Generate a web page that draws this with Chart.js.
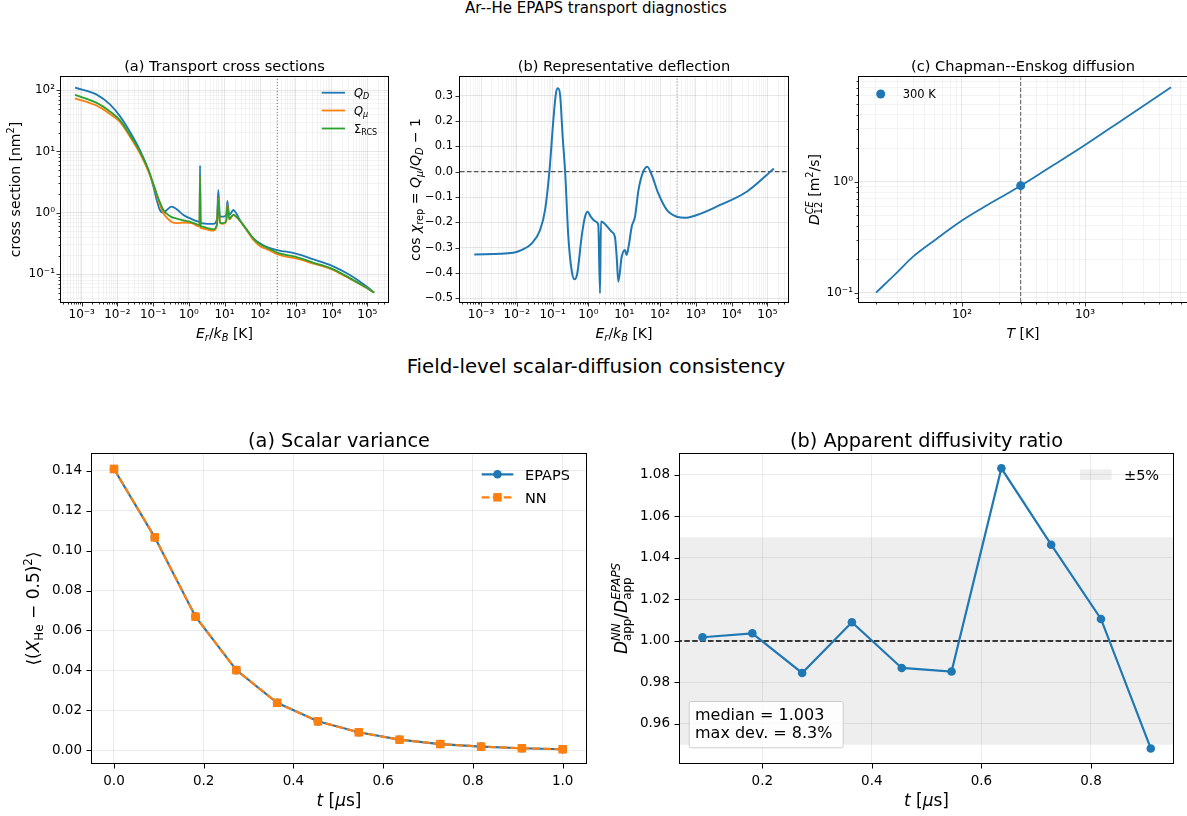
<!DOCTYPE html>
<html><head><meta charset="utf-8">
<script src="https://cdn.jsdelivr.net/npm/chart.js@4.4.1/dist/chart.umd.min.js"></script>
<style>
html,body{margin:0;padding:0;background:#fff;overflow:hidden;width:1187px;height:816px;position:relative;}
canvas{position:absolute;}
.sup{position:absolute;font-family:"DejaVu Sans",sans-serif;color:#000;white-space:nowrap;transform:translateX(-50%);}
</style></head><body>
<div class="sup" style="left:596px;top:0px;font-size:15px;line-height:17px">Ar--He EPAPS transport diagnostics</div>
<div class="sup" style="left:596px;top:355px;font-size:19.8px;line-height:23px">Field-level scalar-diffusion consistency</div>
<canvas id="cA"></canvas><canvas id="cB"></canvas><canvas id="cC"></canvas>
<canvas id="cD"></canvas><canvas id="cE"></canvas>
<script>
// ---------------- DATA ----------------
// (a) transport cross sections [nm^2] vs E_r/k_B [K]
const energyK = [0.00065, 0.00263, 0.00617, 0.01175, 0.0224, 0.0427, 0.0741, 0.102, 0.126, 0.155, 0.195, 0.24, 0.331, 0.457, 0.708, 1.20, 1.86, 2.00, 2.06, 2.14, 2.29, 3.55, 4.90, 6.17, 6.70, 7.48, 9.33, 11.2, 12.0, 13.6, 17.8, 20.9, 26.9, 41.7, 64.6, 97.7, 170, 324, 1000, 3160, 10000, 31600, 100000, 155000];
const qD = [109, 84.1, 58.2, 37.6, 20.9, 10.5, 4.98, 2.66, 1.62, 1.11, 1.00, 1.11, 1.26, 1.14, 0.92, 0.79, 0.716, 0.708, 5.85, 0.684, 0.675, 0.661, 0.661, 0.794, 2.35, 0.865, 0.865, 0.933, 1.56, 0.92, 1.11, 1.00, 0.764, 0.525, 0.384, 0.318, 0.270, 0.245, 0.216, 0.174, 0.138, 0.0977, 0.0617, 0.0501];
const qMu = [73.1, 55.6, 40.7, 30.2, 17.4, 9.31, 4.68, 2.85, 1.95, 1.35, 0.982, 0.832, 0.708, 0.676, 0.695, 0.676, 0.600, 0.594, 3.87, 0.569, 0.558, 0.525, 0.513, 0.631, 1.72, 0.675, 0.661, 0.724, 1.34, 0.783, 0.920, 0.865, 0.745, 0.525, 0.361, 0.288, 0.248, 0.207, 0.180, 0.148, 0.120, 0.0851, 0.0589, 0.0501];
const sigmaRCS = [83.2, 61.7, 44.7, 32.4, 18.5, 9.91, 4.98, 2.95, 2.04, 1.48, 1.11, 0.966, 0.851, 0.804, 0.750, 0.700, 0.638, 0.632, 3.87, 0.603, 0.594, 0.558, 0.537, 0.661, 1.66, 0.692, 0.676, 0.741, 1.29, 0.794, 0.933, 0.875, 0.745, 0.537, 0.380, 0.309, 0.263, 0.221, 0.191, 0.153, 0.123, 0.0871, 0.0589, 0.0501];
// (b) representative deflection
const deflEnergyK = [0.00065, 0.00794, 0.0138, 0.0263, 0.0447, 0.0617, 0.0813, 0.105, 0.124, 0.141, 0.162, 0.191, 0.224, 0.275, 0.339, 0.407, 0.490, 0.646, 0.804, 0.955, 1.17, 1.62, 1.89, 2.11, 2.24, 2.88, 4.47, 5.50, 6.17, 6.84, 8.51, 10.5, 11.7, 13.5, 16.2, 20.0, 25.1, 33.9, 44.2, 58.9, 89.1, 155, 295, 501, 1070, 3800, 26300, 95500, 151000];
const cosChiRep = [-0.327, -0.320, -0.309, -0.283, -0.230, -0.151, 0.000, 0.204, 0.310, 0.329, 0.303, 0.138, 0.000, -0.257, -0.388, -0.425, -0.401, -0.257, -0.178, -0.158, -0.178, -0.197, -0.210, -0.480, -0.197, -0.206, -0.237, -0.257, -0.336, -0.434, -0.336, -0.309, -0.329, -0.289, -0.217, -0.178, -0.072, 0.000, 0.020, -0.013, -0.085, -0.151, -0.178, -0.182, -0.171, -0.138, -0.079, -0.013, 0.013];
const refTemperatureK = 300;
// (c) Chapman-Enskog diffusion
const tempK = [20, 30, 40, 60, 100, 150, 200, 300, 500, 1000, 2000, 5000];
const dCE = [0.100, 0.154, 0.211, 0.297, 0.446, 0.588, 0.708, 0.920, 1.315, 2.14, 3.58, 7.08];
const dCE300 = 0.92;
// bottom (a) scalar variance
const timeUs = [0, 0.0909, 0.1818, 0.2727, 0.3636, 0.4545, 0.5455, 0.6364, 0.7273, 0.8182, 0.9091, 1.0];
const varEPAPS = [0.1410, 0.1067, 0.0669, 0.0401, 0.0237, 0.0144, 0.0089, 0.0052, 0.0030, 0.0017, 0.0009, 0.0004];
const varNN = [0.1410, 0.1067, 0.0669, 0.0401, 0.0237, 0.0144, 0.0089, 0.0052, 0.0030, 0.0017, 0.0009, 0.0004];
// bottom (b) apparent diffusivity ratio
const ratioTimeUs = [0.0909, 0.1818, 0.2727, 0.3636, 0.4545, 0.5455, 0.6364, 0.7273, 0.8182, 0.9091];
const diffRatio = [1.0018, 1.0037, 0.9846, 1.0090, 0.9870, 0.9853, 1.0832, 1.0464, 1.0106, 0.9482];
const bandLimits = [0.95, 1.05];
const statsText = ['median = 1.003', 'max dev. = 8.3%'];
// tick values
const deflTicks = [-0.5, -0.4, -0.3, -0.2, -0.1, 0.0, 0.1, 0.2, 0.3];
const varTicks = [0, 0.02, 0.04, 0.06, 0.08, 0.10, 0.12, 0.14];
const timeTicks = [0, 0.2, 0.4, 0.6, 0.8, 1.0];
const ratioTicks = [0.96, 0.98, 1.00, 1.02, 1.04, 1.06, 1.08];
const ratioTimeTicks = [0.2, 0.4, 0.6, 0.8];

// ---------------- HELPERS ----------------
const BLUE = '#1f77b4', ORANGE = '#ff7f0e', GREEN = '#2ca02c';
const FAM = '"DejaVu Sans", sans-serif';
const SUPS = {'-':'\u207B','0':'\u2070','1':'\u00B9','2':'\u00B2','3':'\u00B3','4':'\u2074','5':'\u2075','6':'\u2076','7':'\u2077','8':'\u2078','9':'\u2079'};
const isDecade = v => { const l = Math.log10(v); return Math.abs(l - Math.round(l)) < 1e-6; };
const pow10Label = v => '10' + String(Math.round(Math.log10(v))).split('').map(c => SUPS[c]).join('');
function logTickValues(min, max) {
  const out = [];
  for (let e = Math.floor(Math.log10(min)); e <= Math.ceil(Math.log10(max)); e++)
    for (let m = 1; m < 10; m++) { const v = +(m * Math.pow(10, e)).toPrecision(6); if (v >= min && v <= max) out.push(v); }
  return out;
}
const pts = (xs, ys) => xs.map((x, i) => ({x, y: ys[i]}));

function logAxis(min, max, size, pad, gMaj, gMin) {
  const vals = logTickValues(min, max);
  return { type: 'logarithmic', min, max, bounds: 'data',
    afterBuildTicks: s => { s.ticks = vals.map(v => ({value: v})); },
    ticks: {autoSkip: false, maxRotation: 0, minRotation: 0, padding: pad, color: '#000',
      font: {family: FAM, size}, callback: v => isDecade(v) ? pow10Label(v) : ''},
    grid: {drawTicks: false, lineWidth: 0.8, color: c => (c.tick && isDecade(c.tick.value)) ? gMaj : gMin},
    border: {display: false} };
}
function linAxis(min, max, vals, fmt, size, pad, gcol) {
  return { type: 'linear', min, max, bounds: 'data',
    afterBuildTicks: s => { s.ticks = vals.map(v => ({value: v})); },
    ticks: {autoSkip: false, maxRotation: 0, minRotation: 0, padding: pad, color: '#000',
      font: {family: FAM, size}, callback: fmt},
    grid: {drawTicks: false, lineWidth: 0.8, color: gcol},
    border: {display: false} };
}

// rich text parts
const R = t => ({t}); const I = t => ({t, it: 1});
const Sb = (t, it) => ({t, it, s: 'sub'}); const Sp = (t, it) => ({t, it, s: 'sup'});
const St = (sub, subIt, sup, supIt) => ({stack: [{t: sub, it: subIt}, {t: sup, it: supIt}]});
const fontStr = (size, it) => (it ? 'italic ' : '') + size.toFixed(2) + 'px ' + FAM;
function richDraw(ctx, parts, size, cx, cy, rot, align) {
  ctx.save(); ctx.translate(cx, cy); if (rot) ctx.rotate(rot);
  let w = 0;
  for (const p of parts) {
    if (p.stack) {
      ctx.font = fontStr(size * 0.7, p.stack[0].it); const a = ctx.measureText(p.stack[0].t).width;
      ctx.font = fontStr(size * 0.7, p.stack[1].it); const b = ctx.measureText(p.stack[1].t).width;
      p._w = Math.max(a, b);
    } else { ctx.font = fontStr(p.s ? size * 0.7 : size, p.it); p._w = ctx.measureText(p.t).width; }
    w += p._w;
  }
  let x = align === 'left' ? 0 : -w / 2;
  const base = size * 0.36;
  ctx.textBaseline = 'alphabetic'; ctx.textAlign = 'left'; ctx.fillStyle = '#000';
  for (const p of parts) {
    if (p.stack) {
      ctx.font = fontStr(size * 0.7, p.stack[0].it); ctx.fillText(p.stack[0].t, x, base + size * 0.24);
      ctx.font = fontStr(size * 0.7, p.stack[1].it); ctx.fillText(p.stack[1].t, x, base - size * 0.42);
    } else {
      ctx.font = fontStr(p.s ? size * 0.7 : size, p.it);
      const dy = p.s === 'sub' ? size * 0.22 : p.s === 'sup' ? -size * 0.42 : 0;
      ctx.fillText(p.t, x, base + dy);
    }
    x += p._w;
  }
  ctx.restore();
}
function marker(ctx, style, x, y, r, color) {
  ctx.fillStyle = color; ctx.beginPath();
  if (style === 'rect') { const h = r * Math.SQRT1_2; ctx.rect(x - h, y - h, 2 * h, 2 * h); }
  else ctx.arc(x, y, r, 0, Math.PI * 2);
  ctx.fill();
}

const decorPlugin = {
  id: 'decor',
  afterDraw(chart, args, o) {
    const ctx = chart.ctx, a = chart.chartArea;
    const X = v => v - o.ox, Y = v => v - o.oy;
    ctx.save();
    // tick marks
    ctx.strokeStyle = '#000'; ctx.lineWidth = o.tickW;
    const xs = chart.scales.x, ys = chart.scales.y;
    ctx.beginPath();
    for (const t of xs.ticks) {
      const p = Math.round(xs.getPixelForValue(t.value)) + 0.5;
      if (p < a.left - 1 || p > a.right + 1) continue;
      const L = t.label !== '' ? o.tickLen : o.minorLen;
      ctx.moveTo(p, a.bottom); ctx.lineTo(p, a.bottom + L);
    }
    for (const t of ys.ticks) {
      const p = Math.round(ys.getPixelForValue(t.value)) + 0.5;
      if (p < a.top - 1 || p > a.bottom + 1) continue;
      const L = t.label !== '' ? o.tickLen : o.minorLen;
      ctx.moveTo(a.left, p); ctx.lineTo(a.left - L, p);
    }
    ctx.stroke();
    // frame
    ctx.strokeStyle = '#000'; ctx.lineWidth = o.frameW;
    ctx.strokeRect(a.left - 0.5, a.top - 0.5, a.right - a.left + 1, a.bottom - a.top + 1);
    // titles and labels
    richDraw(ctx, [R(o.title.t)], o.title.size, X(o.title.x), Y(o.title.y));
    richDraw(ctx, o.xlabel.parts, o.xlabel.size, X(o.xlabel.x), Y(o.xlabel.y));
    richDraw(ctx, o.ylabel.parts, o.ylabel.size, X(o.ylabel.x), Y(o.ylabel.y), -Math.PI / 2);
    // legend entries
    for (const e of (o.legend || [])) {
      if (e.type === 'line') {
        ctx.strokeStyle = e.color; ctx.lineWidth = e.lw; ctx.setLineDash(e.dash || []);
        ctx.beginPath(); ctx.moveTo(X(e.x1), Y(e.y)); ctx.lineTo(X(e.x2), Y(e.y)); ctx.stroke();
        ctx.setLineDash([]);
        if (e.marker) marker(ctx, e.marker, X((e.x1 + e.x2) / 2), Y(e.y), e.r, e.color);
      } else if (e.type === 'marker') {
        marker(ctx, e.marker, X(e.mx), Y(e.y), e.r, e.color);
      } else if (e.type === 'patch') {
        ctx.fillStyle = e.fill; ctx.fillRect(X(e.px), Y(e.y - e.ph / 2), e.pw, e.ph);
      }
      richDraw(ctx, e.parts, e.size, X(e.tx), Y(e.y), 0, 'left');
    }
    // text box
    if (o.box) {
      const b = o.box;
      ctx.fillStyle = 'rgba(255,255,255,0.85)'; ctx.strokeStyle = '#cccccc'; ctx.lineWidth = 1;
      ctx.beginPath(); ctx.roundRect(X(b.x) + 0.5, Y(b.y) + 0.5, b.w, b.h, 2); ctx.fill(); ctx.stroke();
      b.lines.forEach((ln, i) => richDraw(ctx, [R(ln)], b.size, X(b.tx), Y(b.ty[i]), 0, 'left'));
    }
    ctx.restore();
  }
};

function mkChart(id, box, area, datasets, xs, ys, decor) {
  const cv = document.getElementById(id);
  cv.width = box.w; cv.height = box.h; cv.style.left = box.x + 'px'; cv.style.top = box.y + 'px';
  const L = area.l - box.x, T = area.t - box.y, Rr = box.x + box.w - area.r, B = box.y + box.h - area.b;
  xs.afterFit = s => { s.height = B; }; ys.afterFit = s => { s.width = L; };
  xs.position = 'bottom'; ys.position = 'left';
  return new Chart(cv, {
    type: 'line',
    data: {datasets},
    options: {responsive: false, animation: false, devicePixelRatio: 1, events: [],
      layout: {padding: {left: 0, top: T, right: Rr, bottom: 0}, autoPadding: false},
      scales: {x: xs, y: ys},
      plugins: {legend: {display: false}, tooltip: {enabled: false},
        decor: Object.assign({ox: box.x, oy: box.y, tickLen: 4.5, minorLen: 2.5, tickW: 0.8, frameW: 1}, decor)}},
    plugins: [decorPlugin]
  });
}
const lineDS = (data, color, lw, extra) => Object.assign({data, borderColor: color, backgroundColor: color,
  borderWidth: lw, pointRadius: 0, pointHoverRadius: 0, fill: false, cubicInterpolationMode: 'monotone'}, extra || {});

const GMAJ = 'rgba(0,0,0,0.12)', GMIN = 'rgba(0,0,0,0.06)';
const ER_LABEL = [I('E'), Sb('r', 1), R('/'), I('k'), Sb('B', 1), R(' [K]')];
const TOP_TICK = 12, TOP_LAB = 14, TOP_TITLE = 14.6;

// ---------------- PANEL (a) ----------------
const eMinA = 2.63e-4, eMaxA = 3.80e5, qMin = 0.0352, qMax = 163;
mkChart('cA', {x: 0, y: 40, w: 400, h: 310}, {l: 61, t: 77, r: 388, b: 302}, [
  lineDS(pts(energyK, sigmaRCS), GREEN, 1.8, {order: 1}),
  lineDS(pts(energyK, qMu), ORANGE, 1.8, {order: 2}),
  lineDS(pts(energyK, qD), BLUE, 1.8, {order: 3}),
  lineDS([{x: refTemperatureK, y: qMin}, {x: refTemperatureK, y: qMax}], '#444', 0.8, {order: 4, borderDash: [1, 2]})
], logAxis(eMinA, eMaxA, TOP_TICK, 6, GMAJ, GMIN), logAxis(qMin, qMax, TOP_TICK, 6, GMAJ, GMIN), {
  title: {t: '(a) Transport cross sections', x: 224.5, y: 66, size: TOP_TITLE},
  xlabel: {parts: ER_LABEL, x: 224.5, y: 333, size: TOP_LAB},
  ylabel: {parts: [R('cross section [nm'), Sp('2'), R(']')], x: 15, y: 189.5, size: TOP_LAB},
  legend: [
    {type: 'line', x1: 321.7, x2: 345, y: 92.7, color: BLUE, lw: 1.8, parts: [I('Q'), Sb('D', 1)], tx: 354, size: 11.5},
    {type: 'line', x1: 321.7, x2: 345, y: 110.5, color: ORANGE, lw: 1.8, parts: [I('Q'), Sb('\u03BC', 1)], tx: 354, size: 11.5},
    {type: 'line', x1: 321.7, x2: 345, y: 128.5, color: GREEN, lw: 1.8, parts: [R('\u03A3'), Sb('RCS')], tx: 354, size: 11.5}
  ]
});

// ---------------- PANEL (b) ----------------
const eMinB = 2.59e-4, eMaxB = 3.76e5, cMin = -0.5144, cMax = 0.3739;
mkChart('cB', {x: 400, y: 40, w: 400, h: 310}, {l: 460, t: 77, r: 788, b: 302}, [
  lineDS(pts(deflEnergyK, cosChiRep), BLUE, 2, {order: 1}),
  lineDS([{x: eMinB, y: 0}, {x: eMaxB, y: 0}], '#555', 1.3, {order: 2, borderDash: [4.5, 2.5]}),
  lineDS([{x: refTemperatureK, y: cMin}, {x: refTemperatureK, y: cMax}], '#aaa', 1, {order: 3, borderDash: [1.5, 1.5]})
], logAxis(eMinB, eMaxB, TOP_TICK, 6, GMAJ, GMIN),
  linAxis(cMin, cMax, deflTicks, v => (v < -1e-9 ? '\u2212' : '') + Math.abs(v).toFixed(1), 11.5, 7, GMAJ), {
  title: {t: '(b) Representative deflection', x: 624, y: 66, size: TOP_TITLE},
  xlabel: {parts: ER_LABEL, x: 624, y: 333, size: TOP_LAB},
  ylabel: {parts: [R('cos '), I('\u03C7'), Sb('rep'), R(' = '), I('Q'), Sb('\u03BC', 1), R('/'), I('Q'), Sb('D', 1), R(' \u2212 1')], x: 415, y: 189.5, size: TOP_LAB}
});

// ---------------- PANEL (c) ----------------
const tMinC = 14.55, tMaxC = 6745, dMin = 0.0824, dMax = 8.77;
mkChart('cC', {x: 800, y: 40, w: 400, h: 310}, {l: 859, t: 77, r: 1187, b: 302}, [
  lineDS([{x: refTemperatureK, y: dCE300}], BLUE, 0, {order: 0, pointRadius: 4.5, pointBorderWidth: 0, showLine: false}),
  lineDS(pts(tempK, dCE), BLUE, 1.8, {order: 2}),
  lineDS([{x: refTemperatureK, y: dMin}, {x: refTemperatureK, y: dMax}], '#555', 1, {order: 3, borderDash: [4, 2]})
], logAxis(tMinC, tMaxC, TOP_TICK, 6, GMAJ, GMIN), logAxis(dMin, dMax, TOP_TICK, 6, GMAJ, GMIN), {
  title: {t: '(c) Chapman--Enskog diffusion', x: 1023, y: 66, size: TOP_TITLE},
  xlabel: {parts: [I('T'), R(' [K]')], x: 1023, y: 333, size: TOP_LAB},
  ylabel: {parts: [I('D'), St('12', 0, 'CE', 1), R(' [m'), Sp('2'), R('/s]')], x: 814, y: 189.5, size: TOP_LAB},
  legend: [{type: 'marker', marker: 'circle', mx: 880.7, y: 94, r: 4.5, color: BLUE, parts: [R('300 K')], tx: 902.7, size: 11.5}]
});

// ---------------- BOTTOM (a) ----------------
const BG = 'rgba(0,0,0,0.1)';
mkChart('cD', {x: 0, y: 420, w: 600, h: 396}, {l: 92, t: 454, r: 586, b: 763}, [
  lineDS(pts(timeUs, varNN), ORANGE, 2.2, {order: 1, borderDash: [7.7, 3.3], pointStyle: 'rect', pointRadius: 6, pointBorderWidth: 0, cubicInterpolationMode: 'default', tension: 0}),
  lineDS(pts(timeUs, varEPAPS), BLUE, 2.2, {order: 2, pointStyle: 'circle', pointRadius: 4.3, pointBorderWidth: 0, cubicInterpolationMode: 'default', tension: 0})
], linAxis(-0.049, 1.052, timeTicks, v => v.toFixed(1), 13.5, 10, BG),
  linAxis(-0.0065, 0.1485, varTicks, v => v.toFixed(2), 13.5, 10, BG), {
  tickLen: 5.5, minorLen: 3, tickW: 1,
  title: {t: '(a) Scalar variance', x: 339, y: 440, size: 19.3},
  xlabel: {parts: [I('t'), R(' ['), I('\u03BC'), R('s]')], x: 339, y: 800, size: 17},
  ylabel: {parts: [R('\u27E8('), I('X'), Sb('He'), R(' \u2212 0.5)'), Sp('2'), R('\u27E9')], x: 33, y: 608.5, size: 17},
  legend: [
    {type: 'line', x1: 481.7, x2: 513.3, y: 474.3, color: BLUE, lw: 2.2, marker: 'circle', r: 4.3, parts: [R('EPAPS')], tx: 525, size: 14.5},
    {type: 'line', x1: 481.7, x2: 513.3, y: 497.3, color: ORANGE, lw: 2.2, dash: [7.7, 3.3], marker: 'rect', r: 6, parts: [R('NN')], tx: 525, size: 14.5}
  ]
});

// ---------------- BOTTOM (b) ----------------
const BAND = 'rgba(0,0,0,0.065)';
mkChart('cE', {x: 600, y: 420, w: 600, h: 396}, {l: 680, t: 454, r: 1173, b: 763}, [
  lineDS(pts(ratioTimeUs, diffRatio), BLUE, 2.2, {order: 1, pointStyle: 'circle', pointRadius: 4.3, pointBorderWidth: 0, cubicInterpolationMode: 'default', tension: 0}),
  lineDS([{x: 0, y: 1}, {x: 1, y: 1}], '#000', 1.5, {order: 2, borderDash: [5.5, 2.4], cubicInterpolationMode: 'default'}),
  lineDS([{x: 0, y: bandLimits[1]}, {x: 1, y: bandLimits[1]}], 'rgba(0,0,0,0)', 0, {order: 3, fill: {value: bandLimits[0]}, backgroundColor: BAND, cubicInterpolationMode: 'default'})
], linAxis(0.0498, 0.9497, ratioTimeTicks, v => v.toFixed(1), 13.5, 10, BG),
  linAxis(0.9412, 1.0901, ratioTicks, v => v.toFixed(2), 13.5, 10, BG), {
  tickLen: 5.5, minorLen: 3, tickW: 1,
  title: {t: '(b) Apparent diffusivity ratio', x: 926.5, y: 440, size: 19.3},
  xlabel: {parts: [I('t'), R(' ['), I('\u03BC'), R('s]')], x: 926.5, y: 800, size: 17},
  ylabel: {parts: [I('D'), St('app', 0, 'NN', 1), R('/'), I('D'), St('app', 0, 'EPAPS', 1)], x: 621, y: 608.5, size: 17},
  legend: [{type: 'patch', px: 1080, pw: 31.7, ph: 10.7, y: 474.7, fill: BAND, parts: [R('\u00B15%')], tx: 1124, size: 14.5}],
  box: {x: 688.7, y: 701, w: 154, h: 46.3, tx: 695, ty: [714, 732.7], lines: statsText, size: 16}
});
</script>
</body></html>
